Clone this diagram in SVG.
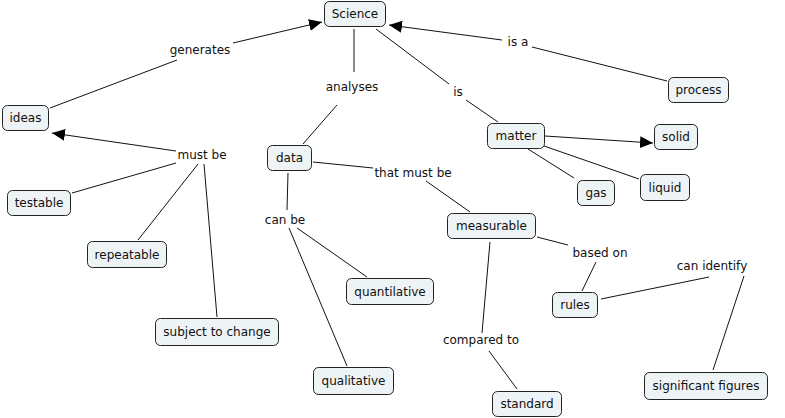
<svg xmlns="http://www.w3.org/2000/svg" width="785" height="418" viewBox="0 0 785 418">
<style>
.n rect{fill:#eef3f5;stroke:#222;stroke-width:1}
text{font-family:"DejaVu Sans",Verdana,sans-serif;font-size:12px;fill:#111;text-anchor:middle}
.c line{stroke:#111;stroke-width:1}
</style>
<defs>
<marker id="ah" markerUnits="userSpaceOnUse" markerWidth="14" markerHeight="12" viewBox="0 0 14 12" refX="13" refY="6" orient="auto">
<path d="M0,0 L13,6 L0,12 Z" fill="#000"/>
</marker>
</defs>
<rect width="785" height="418" fill="#fff"/>
<g class="c">
<line x1="50" y1="108" x2="177" y2="60"/>
<line x1="233" y1="43" x2="322" y2="22" marker-end="url(#ah)"/>
<line x1="354" y1="29" x2="354" y2="72"/>
<line x1="337" y1="105" x2="303" y2="144"/>
<line x1="376" y1="29" x2="449" y2="84"/>
<line x1="466" y1="100" x2="498" y2="122"/>
<line x1="667" y1="81" x2="532" y2="47"/>
<line x1="502" y1="40" x2="389" y2="25" marker-end="url(#ah)"/>
<line x1="176" y1="151" x2="52" y2="133" marker-end="url(#ah)"/>
<line x1="176" y1="163" x2="72" y2="193"/>
<line x1="198" y1="164" x2="138" y2="240"/>
<line x1="204" y1="164" x2="217" y2="317"/>
<line x1="313" y1="162" x2="373" y2="168"/>
<line x1="426" y1="181" x2="470" y2="212"/>
<line x1="288" y1="173" x2="287" y2="210"/>
<line x1="289" y1="228" x2="347" y2="366"/>
<line x1="297" y1="228" x2="367" y2="277"/>
<line x1="545" y1="136" x2="653" y2="143" marker-end="url(#ah)"/>
<line x1="544" y1="146" x2="639" y2="179"/>
<line x1="528" y1="149" x2="574" y2="178"/>
<line x1="537" y1="237" x2="568" y2="245"/>
<line x1="596" y1="262" x2="582" y2="291"/>
<line x1="601" y1="299" x2="709" y2="277"/>
<line x1="744" y1="276" x2="713" y2="370"/>
<line x1="490" y1="242" x2="482" y2="333"/>
<line x1="489" y1="351" x2="517" y2="389"/>
</g>
<g id="lbl-generates"><text x="200" y="54">generates</text></g>
<g id="lbl-analyses"><text x="352" y="91">analyses</text></g>
<g id="lbl-is"><text x="458" y="96">is</text></g>
<g id="lbl-isa"><text x="518" y="46">is a</text></g>
<g id="lbl-mustbe"><text x="202" y="159">must be</text></g>
<g id="lbl-thatmustbe"><text x="413" y="177">that must be</text></g>
<g id="lbl-canbe"><text x="285" y="224">can be</text></g>
<g id="lbl-basedon"><text x="600" y="257">based on</text></g>
<g id="lbl-canidentify"><text x="712" y="270">can identify</text></g>
<g id="lbl-comparedto"><text x="481" y="344">compared to</text></g>
<g id="science" class="n"><rect x="324.5" y="1.5" width="61" height="25" rx="5"/><text x="355" y="18">Science</text></g>
<g id="ideas" class="n"><rect x="2.5" y="105.5" width="46" height="25" rx="5"/><text x="25.5" y="122">ideas</text></g>
<g id="testable" class="n"><rect x="7.5" y="190.5" width="63" height="25" rx="5"/><text x="39" y="207">testable</text></g>
<g id="repeatable" class="n"><rect x="87.5" y="241.5" width="79" height="26" rx="5"/><text x="127" y="258.5">repeatable</text></g>
<g id="subject" class="n"><rect x="155.5" y="318.5" width="123" height="27" rx="5"/><text x="217" y="336">subject to change</text></g>
<g id="qualitative" class="n"><rect x="313.5" y="367.5" width="80" height="27" rx="5"/><text x="353.5" y="385">qualitative</text></g>
<g id="quantilative" class="n"><rect x="346.5" y="278.5" width="87" height="26" rx="5"/><text x="390" y="295.5">quantilative</text></g>
<g id="data" class="n"><rect x="267.5" y="145.5" width="44" height="25" rx="5"/><text x="289.5" y="162">data</text></g>
<g id="measurable" class="n"><rect x="447.5" y="213.5" width="88" height="25" rx="5"/><text x="491.5" y="230">measurable</text></g>
<g id="matter" class="n"><rect x="487.5" y="123.5" width="57" height="25" rx="5"/><text x="516" y="140">matter</text></g>
<g id="process" class="n"><rect x="668.5" y="77.5" width="60" height="25" rx="5"/><text x="698.5" y="94">process</text></g>
<g id="solid" class="n"><rect x="654.5" y="124.5" width="43" height="25" rx="5"/><text x="676" y="141">solid</text></g>
<g id="liquid" class="n"><rect x="640.5" y="174.5" width="49" height="26" rx="5"/><text x="665" y="191.5">liquid</text></g>
<g id="gas" class="n"><rect x="577.5" y="180.5" width="37" height="25" rx="5"/><text x="596" y="197">gas</text></g>
<g id="rules" class="n"><rect x="552.5" y="292.5" width="45" height="25" rx="5"/><text x="575" y="309">rules</text></g>
<g id="standard" class="n"><rect x="492.5" y="391.5" width="69" height="25" rx="5"/><text x="527" y="408">standard</text></g>
<g id="sigfig" class="n"><rect x="644.5" y="372.5" width="123" height="27" rx="5"/><text x="706" y="390">significant figures</text></g>
</svg>
